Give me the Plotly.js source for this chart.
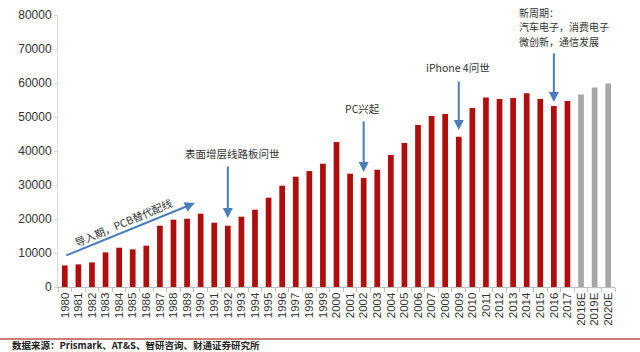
<!DOCTYPE html>
<html><head><meta charset="utf-8">
<script src="https://cdn.plot.ly/plotly-3.0.1.min.js"></script>
<style>html,body{margin:0;padding:0;background:#fff}#c{width:640px;height:352px}</style>
</head><body><div id="c"></div>
<script>
const years = ['1980','1981','1982','1983','1984','1985','1986','1987','1988','1989','1990','1991','1992','1993','1994','1995','1996','1997','1998','1999','2000','2001','2002','2003','2004','2005','2006','2007','2008','2009','2010','2011','2012','2013','2014','2015','2016','2017','2018E','2019E','2020E'];
const values = [6350,6650,7240,10180,11560,11070,12150,18030,19800,20090,21560,18910,18030,20680,22740,26270,29800,32450,34100,36260,42650,33330,32060,34500,38820,42350,47650,50290,50880,44200,52650,55770,55290,55590,56950,55290,53240,54710,56650,58710,59880];
const yTicks = [0,10000,20000,30000,40000,50000,60000,70000,80000];
const notes = ['导入期，PCB替代配线','表面增层线路板问世','PC兴起','iPhone 4问世'];
const cycleLines = ['新周期：','汽车电子，消费电子','微创新，通信发展'];
const source = '数据来源：Prismark、AT&S、智研咨询、财通证券研究所';

const colors = years.map(y => y.endsWith('E') ? '#a6a6a6' : '#b00d0d');
const cjk = '"Noto Sans CJK SC", sans-serif';
const arrowC = '#4a7ebb';

const trace = {type:'bar', x: years, y: values, marker:{color: colors}, hoverinfo:'none'};

const idx = y => years.indexOf(y);
function arrowAt(xi, yval, ax, ay){
  return {x:xi, y:yval, xref:'x', yref:'y', ax:ax, ay:ay,
    showarrow:true, arrowhead:2, arrowsize:1, arrowwidth:2, arrowcolor:arrowC, text:''};
}
function txt(x, y, t, extra){
  return Object.assign({x:x, y:y, xref:'paper', yref:'paper', text:t, showarrow:false,
    font:{family:cjk, size:10.5, color:'#333'}}, extra||{});
}
const W = 557, H = 272, L = 58, T = 15;
const px = v => (v - L)/W, py = v => (T + H - v)/H;

const layout = {
  width:640, height:352, margin:{l:58, r:25, t:15, b:65},
  paper_bgcolor:'#fff', plot_bgcolor:'#fff', showlegend:false, bargap:0.58,
  xaxis:{type:'category', range:[-0.5, years.length-0.5], autorange:false, tickangle:-90,
    tickmode:'array', tickvals:years, ticktext:years,
    tickfont:{family:'Liberation Sans, Arial', size:11.5, color:'#333'},
    showline:true, linecolor:'#bfbfbf', linewidth:1, ticks:'outside', tickson:'boundaries', ticklen:4, tickcolor:'#bfbfbf',
    showgrid:false},
  yaxis:{range:[0,80000], autorange:false, tickvals:yTicks, ticktext:yTicks.map(String), showgrid:false, zeroline:false,
    showline:true, linecolor:'#d9d9d9', linewidth:1, ticks:'outside', ticklen:3, tickcolor:'#d9d9d9',
    tickfont:{family:'Liberation Sans, Arial', size:12, color:'#333'}},
  annotations:[
    arrowAt(9.57, 24700, -130, 53),
    arrowAt(idx('1992'), 20300, 0, -53),
    arrowAt(idx('2002'), 33800, 0, -52),
    arrowAt(idx('2009'), 46200, 0, -50),
    arrowAt(idx('2016'), 54400, 0, -50),
    txt(px(123), py(222), notes[0], {textangle:-23, xanchor:'center', yanchor:'middle'}),
    txt(px(232), py(153), notes[1], {xanchor:'center', yanchor:'middle'}),
    txt(px(362), py(108), notes[2], {xanchor:'center', yanchor:'middle'}),
    txt(px(458), py(67), notes[3], {xanchor:'center', yanchor:'middle'}),
    txt(px(517), py(12), cycleLines[0], {xanchor:'left', yanchor:'middle', font:{family:cjk, size:10, color:'#333'}}),
    txt(px(517), py(26.5), cycleLines[1], {xanchor:'left', yanchor:'middle', font:{family:cjk, size:10, color:'#333'}}),
    txt(px(517), py(41), cycleLines[2], {xanchor:'left', yanchor:'middle', font:{family:cjk, size:10, color:'#333'}}),
    txt(px(10), py(345), '<b>'+source+'</b>', {xanchor:'left', yanchor:'middle', font:{family:cjk, size:9.5, color:'#222'}})
  ],
  shapes:[{type:'line', xref:'paper', yref:'paper', x0:px(0), x1:px(640), y0:py(339), y1:py(339),
    line:{color:'#c0504d', width:1.5}}]
};
Plotly.newPlot('c', [trace], layout, {staticPlot:true, displayModeBar:false});
</script></body></html>
